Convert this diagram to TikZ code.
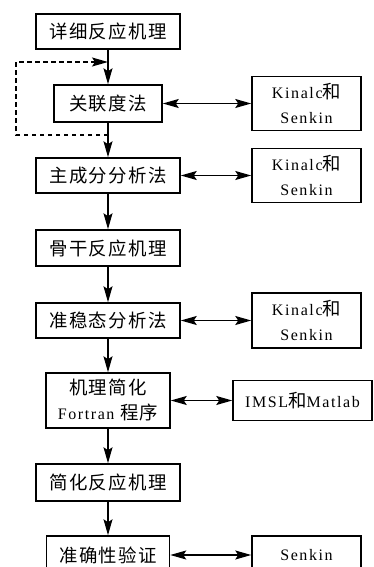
\documentclass[tikz,border=0pt]{standalone}
\usepackage{fontspec}
\setmainfont{Liberation Serif}[LetterSpace=10]
\newfontfamily\cjk{Noto Sans CJK SC}[Scale=1.15,LetterSpace=7]
\newcommand\zh[1]{{\cjk #1}}
\usetikzlibrary{arrows.meta}
\tikzset{
  box/.style={draw=black, line width=1.5pt, rectangle, inner sep=0pt, align=center,
    font=\fontsize{16pt}{25pt}\selectfont},
  conn/.style={line width=1.4pt, -{Stealth[length=16pt,width=9pt,inset=3pt]}},
  biconn/.style={line width=1.4pt, {Stealth[length=16pt,width=9pt,inset=3pt]}-{Stealth[length=16pt,width=9pt,inset=3pt]}},
  dconn/.style={line width=1.4pt, dash pattern=on 4.5pt off 3.5pt, -{Stealth[length=16pt,width=9pt,inset=3pt]}}
}
\begin{document}
\begin{tikzpicture}[x=1pt,y=-1pt]
\useasboundingbox (0,0) rectangle (374,567);
\clip (0,0) rectangle (374,567);
\fill[white] (0,0) rectangle (374,567);
% main column
\node[box, minimum width=144pt, minimum height=35pt] (b1) at (108,31.5) {\zh{详细反应机理}};
\node[box, minimum width=108pt, minimum height=37pt] (b2) at (108,103.5) {\zh{关联度法}};
\node[box, minimum width=144pt, minimum height=35pt] (b3) at (108,175.5) {\zh{主成分分析法}};
\node[box, minimum width=144pt, minimum height=36pt] (b4) at (108,248) {\zh{骨干反应机理}};
\node[box, minimum width=144pt, minimum height=35pt] (b5) at (108,320.5) {\zh{准稳态分析法}};
\node[box, minimum width=124pt, minimum height=55pt] (b6) at (108,400.5) {\zh{机理简化}\\Fortran \zh{程序}};
\node[box, minimum width=144pt, minimum height=37pt] (b7) at (108,482.5) {\zh{简化反应机理}};
\node[box, minimum width=123pt, minimum height=38pt] (b8) at (108,555) {\zh{准确性验证}};
% right column
\node[box, minimum width=109pt, minimum height=54pt] (r1) at (306.5,103.5) {Kinalc\zh{和}\\Senkin};
\node[box, minimum width=109pt, minimum height=54pt] (r2) at (306.5,175.5) {Kinalc\zh{和}\\Senkin};
\node[box, minimum width=109pt, minimum height=55pt] (r3) at (306.5,320.5) {Kinalc\zh{和}\\Senkin};
\node[box, minimum width=139pt, minimum height=40pt] (r4) at (302.5,400.5) {IMSL\zh{和}Matlab};
\node[box, minimum width=109pt, minimum height=38pt] (r5) at (306.5,555) {Senkin};
% vertical arrows
\draw[conn] (b1) -- (b2);
\draw[conn] (b2) -- (b3);
\draw[conn] (b3) -- (b4);
\draw[conn] (b4) -- (b5);
\draw[conn] (b5) -- (b6);
\draw[conn] (b6) -- (b7);
\draw[conn] (b7) -- (b8);
% horizontal arrows
\draw[biconn] (b2) -- (r1);
\draw[biconn] (b3) -- (r2);
\draw[biconn] (b5) -- (r3);
\draw[biconn] (b6) -- (r4);
\draw[biconn] (b8) -- (r5);
% dashed loop
\coordinate (ds) at (108,135);
\coordinate (de) at (108,62);
\draw[dconn] (ds) -- (16,135) -- (16,62) -- (de);
\end{tikzpicture}
\end{document}
